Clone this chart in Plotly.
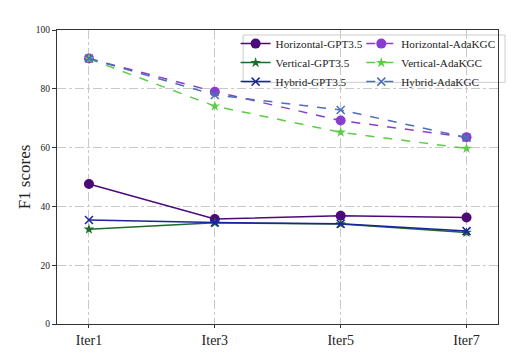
import plotly.graph_objects as go

iters = ["Iter1", "Iter3", "Iter5", "Iter7"]

horizontal_gpt = [47.6, 35.7, 36.8, 36.2]
vertical_gpt = [32.2, 34.4, 34.0, 31.1]
hybrid_gpt = [35.4, 34.5, 34.1, 31.6]
horizontal_ada = [90.3, 79.0, 69.2, 63.5]
vertical_ada = [90.2, 74.1, 65.2, 59.7]
hybrid_ada = [90.3, 77.9, 72.8, 63.4]

FONT = "Liberation Serif"

# (name, values, colour, marker symbol, dash, legend)
series = [
    ("Horizontal-GPT3.5", horizontal_gpt, "#4b0a78", "circle", "solid", "legend"),
    ("Vertical-GPT3.5", vertical_gpt, "#1f6b2a", "star", "solid", "legend"),
    ("Hybrid-GPT3.5", hybrid_gpt, "#1a239e", "x-thin", "solid", "legend"),
    ("Horizontal-AdaKGC", horizontal_ada, "#8a3ccf", "circle", "dash", "legend2"),
    ("Vertical-AdaKGC", vertical_ada, "#5ecb48", "star", "dash", "legend2"),
    ("Hybrid-AdaKGC", hybrid_ada, "#4d6fb8", "x-thin", "dash", "legend2"),
]

fig = go.Figure()
for name, vals, color, symbol, dash, leg in series:
    marker = dict(color=color, size=10, symbol=symbol)
    if symbol == "star":
        marker.update(size=8)
    if symbol == "x-thin":
        marker.update(size=8, line=dict(color=color, width=1.5))
    fig.add_trace(
        go.Scatter(
            x=iters, y=vals, name=name, mode="lines+markers",
            line=dict(color=color, width=1.5, dash=dash),
            marker=marker, legend=leg,
        )
    )

# legend frame around both legend columns
fig.add_shape(
    type="rect", xref="paper", yref="paper",
    x0=0.422, x1=1.016, y0=0.822, y1=0.983,
    line=dict(color="#cccccc", width=1), fillcolor="rgba(255,255,255,0.85)",
    layer="below",
)

leg_common = dict(
    font=dict(family=FONT, size=11.2, color="#222"),
    bgcolor="rgba(0,0,0,0)", borderwidth=0,
    yanchor="top", y=1.003, xanchor="left",
    tracegroupgap=0, itemwidth=30,
)

# the page has an 8px body margin, so left/top margins are trimmed by 8
fig.update_layout(
    width=528, height=360,
    margin=dict(l=49, r=38, t=22, b=44),
    paper_bgcolor="white", plot_bgcolor="white",
    font=dict(family=FONT, color="#222"),
    showlegend=True,
    legend=dict(x=0.405, **leg_common),
    legend2=dict(x=0.69, **leg_common),
)

grid = dict(showgrid=True, gridcolor="#c8c8c8", griddash="dashdot", gridwidth=1)
fig.update_xaxes(
    range=[-0.254, 3.25], showline=True, linecolor="#333", linewidth=1.2, mirror=True,
    ticks="outside", ticklen=3, tickcolor="#333", automargin=False,
    tickfont=dict(family=FONT, size=14), **grid,
)
fig.update_yaxes(
    range=[0, 100], dtick=20, showline=True, linecolor="#333", linewidth=1.2, mirror=True,
    ticks="outside", ticklen=4, tickcolor="#333", zeroline=False, automargin=False,
    tickfont=dict(family=FONT, size=9.5),
    title=dict(text="F1 scores", font=dict(family=FONT, size=17), standoff=0),
    **grid,
)

fig.write_html("out.html")
